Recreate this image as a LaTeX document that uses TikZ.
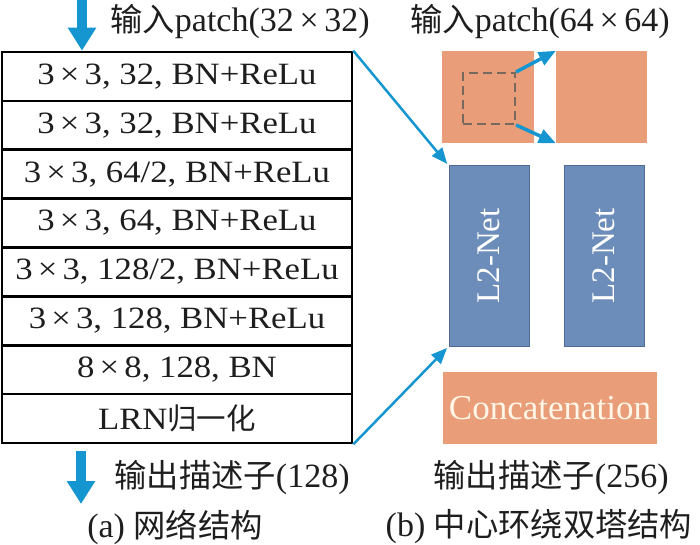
\documentclass[tikz,border=0pt]{standalone}
\usepackage{fontspec}
\setmainfont{Liberation Serif}
\newfontfamily\cjk[Scale=0.95]{Noto Sans CJK SC}
\newfontfamily\tabfont[FakeStretch=1.12]{Liberation Serif}
\usetikzlibrary{arrows.meta}
\definecolor{arrowblue}{RGB}{22,150,208}
\definecolor{patchorange}{RGB}{233,158,121}
\definecolor{netblue}{RGB}{108,140,186}
\definecolor{netborder}{RGB}{80,108,150}
\definecolor{dashgray}{RGB}{120,105,95}
\definecolor{txt}{RGB}{30,30,30}
\begin{document}
\begin{tikzpicture}[x=1pt,y=-1pt,
  layer/.style={draw=black, line width=2.6pt, minimum width=350pt, minimum height=48.875pt, inner sep=0pt, font=\tabfont\fontsize{31}{34}\selectfont, text=txt},
  lbl/.style={font=\fontsize{34}{38}\selectfont, inner sep=0pt, text=txt},
  bigarrow/.style={draw=arrowblue, line width=10pt, -{Triangle[width=27pt,length=23pt]}},
  thinarrow/.style={draw=arrowblue, line width=2.5pt, shorten >=2pt, -{Triangle[width=13pt,length=16pt]}},
  midarrow/.style={draw=arrowblue, line width=3.5pt, -{Triangle[width=14pt,length=17pt]}},
  patch/.style={fill=patchorange, draw=none, inner sep=0pt},
  net/.style={fill=netblue, draw=netborder, line width=1pt, minimum width=80pt, minimum height=180pt, inner sep=0pt, text=white, font=\fontsize{33}{36}\selectfont},
  dashbox/.style={draw=dashgray, line width=2pt, dash pattern=on 9pt off 5pt, minimum width=52pt, minimum height=51pt, inner sep=0pt}
]
\useasboundingbox (0,0) rectangle (700,545);

% left network table
\node[layer] (r1) at (177,76.44) {3\,×\,3, 32, BN+ReLu};
\node[layer] (r2) at (177,125.31) {3\,×\,3, 32, BN+ReLu};
\node[layer] (r3) at (177,174.19) {3\,×\,3, 64/2, BN+ReLu};
\node[layer] (r4) at (177,223.06) {3\,×\,3, 64, BN+ReLu};
\node[layer] (r5) at (177,271.94) {3\,×\,3, 128/2, BN+ReLu};
\node[layer] (r6) at (177,320.81) {3\,×\,3, 128, BN+ReLu};
\node[layer] (r7) at (177,369.69) {8\,×\,8, 128, BN};
\node[layer] (r8) at (177,418.56) {LRN{\cjk 归一化}};

% labels
\node[lbl] (lin1) at (240,22) {{\cjk 输入}patch(32\,×\,32)};
\node[lbl] (lin2) at (540,22) {{\cjk 输入}patch(64\,×\,64)};
\node[lbl] (lout1) at (232,477) {{\cjk 输出描述子}(128)};
\node[lbl] (lout2) at (551,477) {{\cjk 输出描述子}(256)};
\node[lbl] (cap1) at (175,527) {(a) {\cjk 网络结构}};
\node[lbl] (cap2) at (539,527) {(b) {\cjk 中心环绕双塔结构}};

% big arrows
\coordinate (inA) at (82,0);
\draw[bigarrow] (inA) -- (inA |- r1.north);
\coordinate (outA) at (81,451);
\coordinate (outB) at (81,504);
\draw[bigarrow] (outA) -- (outB);

% right panel
\node[patch, minimum width=92pt, minimum height=92pt] (p1) at (488,97) {};
\node[patch, minimum width=91pt, minimum height=92pt] (p2) at (601.5,97) {};
\node[dashbox] (ds) at (489,98.5) {};
\node[net] (n1) at (489,256) {};
\node[net] (n2) at (604,256) {};
\node[rotate=90, text=white, font=\fontsize{33}{36}\selectfont, inner sep=0pt] (t1) at (n1.center) {L2-Net};
\node[rotate=90, text=white, font=\fontsize{33}{36}\selectfont, inner sep=0pt] (t2) at (n2.center) {L2-Net};
\node[patch, minimum width=214pt, minimum height=72pt, text={rgb,255:red,255;green,246;blue,232}, font=\fontsize{35}{38}\selectfont] (cc) at (550,408) {Concatenation};

% connectors
\draw[thinarrow] (r1.north east) -- (n1.north west);
\draw[thinarrow] (r8.south east) -- (n1.south west);
\draw[midarrow] (ds.north east) -- (p2.north west);
\draw[midarrow] (ds.south east) -- (p2.south west);
\end{tikzpicture}
\end{document}
